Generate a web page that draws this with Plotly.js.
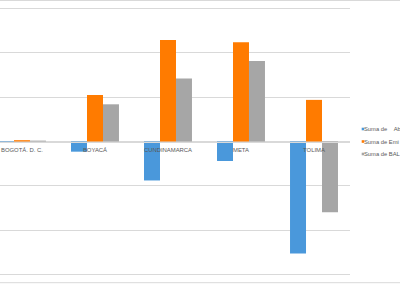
<!DOCTYPE html>
<html>
<head>
<meta charset="utf-8">
<script src="https://cdn.plot.ly/plotly-3.0.1.min.js"></script>
<style>html,body{margin:0;padding:0;background:#fff;}#chart{width:400px;height:284px;}</style>
</head>
<body>
<div id="chart"></div>
<script>
var categories = ["BOGOTÁ. D. C.", "BOYACÁ", "CUNDINAMARCA", "META", "TOLIMA"];
var seriesNames = ["Suma de  Absorciones", "Suma de Emisiones", "Suma de BALANCE"];
var legendLabels = ["Suma de\u00a0\u00a0\u00a0\u00a0Ab", "Suma de Emi", "Suma de BAL"];
var absorciones = [-2, -23, -88, -44, -253];
var emisiones = [3, 105, 229, 224, 94];
var balance = [2, 84, 142, 182, -160];
var colors = ["#4A98DB", "#FF7B00", "#A6A6A6"];

var values = [absorciones, emisiones, balance];
var traces = values.map(function (v, i) {
  return {
    type: "bar",
    x: categories,
    y: v,
    name: seriesNames[i],
    marker: { color: colors[i] },
    showlegend: false,
    hoverinfo: "x+y+name"
  };
});

var legendTop = 0.5461, legendStep = 0.0461;
var annotations = [], shapes = [];
legendLabels.forEach(function (n, i) {
  var yy = legendTop - i * legendStep;
  annotations.push({
    xref: "paper", yref: "paper", x: 1.0357, y: yy,
    xanchor: "left", yanchor: "middle", showarrow: false,
    text: n, font: { family: "Liberation Sans, Arial, sans-serif", size: 5.8, color: "#595959" }
  });
  shapes.push({
    type: "rect", xref: "paper", yref: "paper",
    x0: 1.0334, x1: 1.0406, y0: yy - 0.0048, y1: yy + 0.0048,
    line: { width: 0 }, fillcolor: colors[i]
  });
});
shapes.push({
  type: "rect", xref: "paper", yref: "paper",
  x0: -0.1, x1: 1.3, y0: -0.021, y1: 1.0203,
  line: { color: "#D9D9D9", width: 1 }, fillcolor: "rgba(0,0,0,0)", layer: "below"
});

var layout = {
  width: 400, height: 284,
  margin: { l: 0, r: 50, t: 6, b: 7, autoexpand: false },
  paper_bgcolor: "#ffffff", plot_bgcolor: "#ffffff",
  barmode: "group", bargap: 0.343, bargroupgap: 0,
  showlegend: false,
  xaxis: {
    type: "category",
    range: [-0.301, 4.493],
    anchor: "free", position: 0.5,
    showline: true, linecolor: "#D9D9D9", linewidth: 1,
    showgrid: false, ticks: "", zeroline: false,
    ticklabelstandoff: 2,
    tickfont: { family: "Liberation Sans, Arial, sans-serif", size: 5.9, color: "#595959" }
  },
  yaxis: {
    range: [-306, 306], tick0: 0, dtick: 100,
    showticklabels: false, ticks: "",
    showgrid: true, gridcolor: "#D9D9D9", gridwidth: 1,
    zeroline: false, showline: false
  },
  annotations: annotations,
  shapes: shapes
};

Plotly.newPlot("chart", traces, layout, { displayModeBar: false, staticPlot: true });
</script>
</body>
</html>
